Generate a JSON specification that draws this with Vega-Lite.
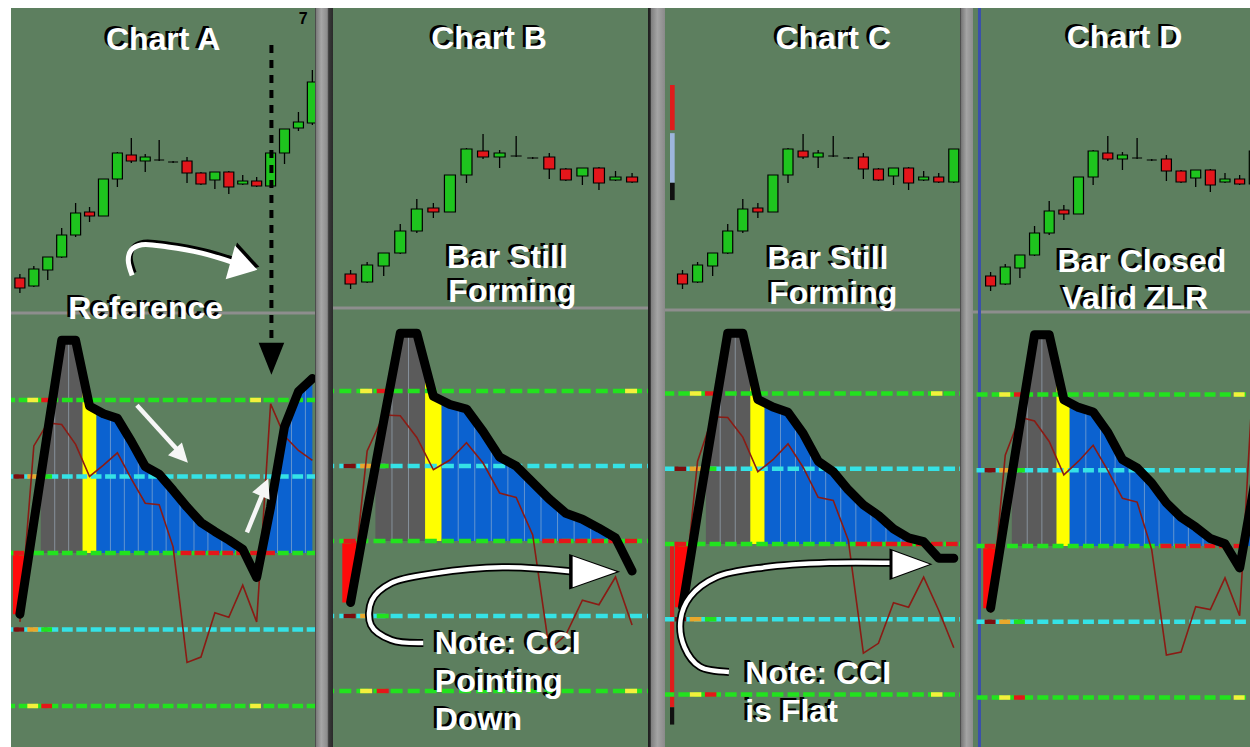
{
"$schema": "https://vega.github.io/schema/vega-lite/v6.json",
"background": "white",
"padding": {"left": 8, "top": 8, "right": 0, "bottom": 0},
"spacing": 0,
"bounds": "flush",
"config": {"view": {"stroke": null}},
"datasets": {
"candles": [
{"i":0,"o":122,"h":126,"l":107,"c":112},{"i":1,"o":114,"h":134,"l":113,"c":131},{"i":2,"o":130,"h":143,"l":120,"c":143},{"i":3,"o":143,"h":172,"l":142,"c":165},{"i":4,"o":165,"h":197,"l":163,"c":187},{"i":5,"o":188,"h":193,"l":178,"c":184},{"i":6,"o":184,"h":221,"l":184,"c":221},{"i":7,"o":221,"h":248,"l":213,"c":247},{"i":8,"o":245,"h":262,"l":237,"c":239},{"i":9,"o":239,"h":246,"l":228,"c":243},{"i":10,"o":240,"h":260,"l":239,"c":240},{"i":11,"o":238,"h":239,"l":237,"c":238},{"i":12,"o":239,"h":243,"l":217,"c":227},{"i":13,"o":227,"h":228,"l":215,"c":216},{"i":14,"o":220,"h":228,"l":211,"c":228},{"i":15,"o":228,"h":229,"l":206,"c":213},{"i":16,"o":216,"h":225,"l":215,"c":219},{"i":17,"o":219,"h":223,"l":213,"c":214},{"i":18,"o":214,"h":247,"l":213,"c":247},{"i":19,"o":247,"h":271,"l":236,"c":271},{"i":20,"o":272,"h":288,"l":269,"c":278},{"i":21,"o":277,"h":330,"l":275,"c":318}
],
"div": [{"p":"A","y":87},{"p":"B","y":88},{"p":"C","y":86},{"p":"D","y":86}],
"cci": [
{"p":"A","i":0,"v":-80,"t":-90},{"p":"A","i":1,"v":40,"t":140},{"p":"A","i":2,"v":160,"t":170},{"p":"A","i":3,"v":278,"t":168},{"p":"A","i":4,"v":278,"t":142},{"p":"A","i":5,"v":192,"t":100},{"p":"A","i":6,"v":182,"t":115},{"p":"A","i":7,"v":176,"t":131},{"p":"A","i":8,"v":146,"t":97},{"p":"A","i":9,"v":113,"t":65},{"p":"A","i":10,"v":103,"t":63},{"p":"A","i":11,"v":82,"t":8},{"p":"A","i":12,"v":60,"t":-143},{"p":"A","i":13,"v":40,"t":-136},{"p":"A","i":14,"v":28,"t":-78},{"p":"A","i":15,"v":17,"t":-84},{"p":"A","i":16,"v":5,"t":-42},{"p":"A","i":17,"v":-32,"t":-90},{"p":"A","i":18,"v":60,"t":195},{"p":"A","i":19,"v":165,"t":153},{"p":"A","i":20,"v":211,"t":134},{"p":"A","i":21,"v":228,"t":121},
{"p":"B","i":0,"v":-82,"t":-88},{"p":"B","i":1,"v":40,"t":120},{"p":"B","i":2,"v":160,"t":168},{"p":"B","i":3,"v":277,"t":167},{"p":"B","i":4,"v":277,"t":138},{"p":"B","i":5,"v":193,"t":95},{"p":"B","i":6,"v":182,"t":108},{"p":"B","i":7,"v":176,"t":131},{"p":"B","i":8,"v":146,"t":104},{"p":"B","i":9,"v":112,"t":64},{"p":"B","i":10,"v":100,"t":58},{"p":"B","i":11,"v":78,"t":8},{"p":"B","i":12,"v":56,"t":-145},{"p":"B","i":13,"v":37,"t":-125},{"p":"B","i":14,"v":29,"t":-79},{"p":"B","i":15,"v":17,"t":-85},{"p":"B","i":16,"v":4,"t":-48},{"p":"B","i":17,"v":-40,"t":-112},
{"p":"C","i":0,"v":-84,"t":-88},{"p":"C","i":1,"v":40,"t":110},{"p":"C","i":2,"v":160,"t":169},{"p":"C","i":3,"v":280,"t":168},{"p":"C","i":4,"v":280,"t":142},{"p":"C","i":5,"v":192,"t":96},{"p":"C","i":6,"v":182,"t":112},{"p":"C","i":7,"v":175,"t":133},{"p":"C","i":8,"v":147,"t":102},{"p":"C","i":9,"v":110,"t":62},{"p":"C","i":10,"v":96,"t":58},{"p":"C","i":11,"v":72,"t":5},{"p":"C","i":12,"v":52,"t":-145},{"p":"C","i":13,"v":38,"t":-132},{"p":"C","i":14,"v":20,"t":-78},{"p":"C","i":15,"v":8,"t":-84},{"p":"C","i":16,"v":3,"t":-44},{"p":"C","i":17,"v":-19,"t":-88},{"p":"C","i":18,"v":-19,"t":-138},
{"p":"D","i":0,"v":-82,"t":-88},{"p":"D","i":1,"v":40,"t":120},{"p":"D","i":2,"v":160,"t":170},{"p":"D","i":3,"v":279,"t":165},{"p":"D","i":4,"v":279,"t":138},{"p":"D","i":5,"v":193,"t":94},{"p":"D","i":6,"v":183,"t":112},{"p":"D","i":7,"v":177,"t":133},{"p":"D","i":8,"v":150,"t":100},{"p":"D","i":9,"v":114,"t":63},{"p":"D","i":10,"v":103,"t":58},{"p":"D","i":11,"v":83,"t":-5},{"p":"D","i":12,"v":57,"t":-144},{"p":"D","i":13,"v":38,"t":-140},{"p":"D","i":14,"v":25,"t":-80},{"p":"D","i":15,"v":10,"t":-84},{"p":"D","i":16,"v":3,"t":-42},{"p":"D","i":17,"v":-29,"t":-92},{"p":"D","i":18,"v":80,"t":250}
],
"hist": [
{"p":"A","s":"r","k":"red","x":-0.5,"v":-80},{"p":"A","s":"r","k":"red","x":0,"v":-80},{"p":"A","s":"r","k":"red","x":0.67,"v":0},
{"p":"A","s":"g","k":"gray","x":1.5,"v":100},{"p":"A","s":"g","k":"gray","x":2,"v":160},{"p":"A","s":"g","k":"gray","x":3,"v":278},{"p":"A","s":"g","k":"gray","x":4,"v":278},{"p":"A","s":"g","k":"gray","x":4.5,"v":235},
{"p":"A","s":"y","k":"yellow","x":4.5,"v":235},{"p":"A","s":"y","k":"yellow","x":5,"v":192},{"p":"A","s":"y","k":"yellow","x":5.5,"v":187},
{"p":"A","s":"b1","k":"blue","x":5.5,"v":187},{"p":"A","s":"b1","k":"blue","x":6,"v":182},{"p":"A","s":"b1","k":"blue","x":7,"v":176},{"p":"A","s":"b1","k":"blue","x":8,"v":146},{"p":"A","s":"b1","k":"blue","x":9,"v":113},{"p":"A","s":"b1","k":"blue","x":10,"v":103},{"p":"A","s":"b1","k":"blue","x":11,"v":82},{"p":"A","s":"b1","k":"blue","x":12,"v":60},{"p":"A","s":"b1","k":"blue","x":13,"v":40},{"p":"A","s":"b1","k":"blue","x":14,"v":28},{"p":"A","s":"b1","k":"blue","x":15,"v":17},{"p":"A","s":"b1","k":"blue","x":16,"v":5},{"p":"A","s":"b1","k":"blue","x":16.14,"v":0},
{"p":"A","s":"b2","k":"blue","x":17.35,"v":0},{"p":"A","s":"b2","k":"blue","x":18,"v":60},{"p":"A","s":"b2","k":"blue","x":19,"v":165},{"p":"A","s":"b2","k":"blue","x":20,"v":211},{"p":"A","s":"b2","k":"blue","x":21,"v":228},
{"p":"B","s":"r","k":"red","x":-0.5,"v":-82},{"p":"B","s":"r","k":"red","x":0,"v":-82},{"p":"B","s":"r","k":"red","x":0.67,"v":0},
{"p":"B","s":"g","k":"gray","x":1.5,"v":100},{"p":"B","s":"g","k":"gray","x":2,"v":160},{"p":"B","s":"g","k":"gray","x":3,"v":277},{"p":"B","s":"g","k":"gray","x":4,"v":277},{"p":"B","s":"g","k":"gray","x":4.5,"v":235},
{"p":"B","s":"y","k":"yellow","x":4.5,"v":235},{"p":"B","s":"y","k":"yellow","x":5,"v":193},{"p":"B","s":"y","k":"yellow","x":5.5,"v":187},
{"p":"B","s":"b1","k":"blue","x":5.5,"v":187},{"p":"B","s":"b1","k":"blue","x":6,"v":182},{"p":"B","s":"b1","k":"blue","x":7,"v":176},{"p":"B","s":"b1","k":"blue","x":8,"v":146},{"p":"B","s":"b1","k":"blue","x":9,"v":112},{"p":"B","s":"b1","k":"blue","x":10,"v":100},{"p":"B","s":"b1","k":"blue","x":11,"v":78},{"p":"B","s":"b1","k":"blue","x":12,"v":56},{"p":"B","s":"b1","k":"blue","x":13,"v":37},{"p":"B","s":"b1","k":"blue","x":14,"v":29},{"p":"B","s":"b1","k":"blue","x":15,"v":17},{"p":"B","s":"b1","k":"blue","x":16,"v":4},{"p":"B","s":"b1","k":"blue","x":16.09,"v":0},
{"p":"C","s":"r","k":"red","x":-0.5,"v":-84},{"p":"C","s":"r","k":"red","x":0,"v":-84},{"p":"C","s":"r","k":"red","x":0.68,"v":0},
{"p":"C","s":"g","k":"gray","x":1.55,"v":100},{"p":"C","s":"g","k":"gray","x":2,"v":160},{"p":"C","s":"g","k":"gray","x":3,"v":280},{"p":"C","s":"g","k":"gray","x":4,"v":280},{"p":"C","s":"g","k":"gray","x":4.5,"v":236},
{"p":"C","s":"y","k":"yellow","x":4.5,"v":236},{"p":"C","s":"y","k":"yellow","x":5,"v":192},{"p":"C","s":"y","k":"yellow","x":5.45,"v":187},
{"p":"C","s":"b1","k":"blue","x":5.45,"v":187},{"p":"C","s":"b1","k":"blue","x":6,"v":182},{"p":"C","s":"b1","k":"blue","x":7,"v":175},{"p":"C","s":"b1","k":"blue","x":8,"v":147},{"p":"C","s":"b1","k":"blue","x":9,"v":110},{"p":"C","s":"b1","k":"blue","x":10,"v":96},{"p":"C","s":"b1","k":"blue","x":11,"v":72},{"p":"C","s":"b1","k":"blue","x":12,"v":52},{"p":"C","s":"b1","k":"blue","x":13,"v":38},{"p":"C","s":"b1","k":"blue","x":14,"v":20},{"p":"C","s":"b1","k":"blue","x":15,"v":8},{"p":"C","s":"b1","k":"blue","x":16,"v":3},{"p":"C","s":"b1","k":"blue","x":16.14,"v":0},
{"p":"D","s":"r","k":"red","x":-0.5,"v":-82},{"p":"D","s":"r","k":"red","x":0,"v":-82},{"p":"D","s":"r","k":"red","x":0.67,"v":0},
{"p":"D","s":"g","k":"gray","x":1.45,"v":98},{"p":"D","s":"g","k":"gray","x":2,"v":160},{"p":"D","s":"g","k":"gray","x":3,"v":279},{"p":"D","s":"g","k":"gray","x":4,"v":279},{"p":"D","s":"g","k":"gray","x":4.5,"v":236},
{"p":"D","s":"y","k":"yellow","x":4.5,"v":236},{"p":"D","s":"y","k":"yellow","x":5,"v":193},{"p":"D","s":"y","k":"yellow","x":5.4,"v":189},
{"p":"D","s":"b1","k":"blue","x":5.4,"v":189},{"p":"D","s":"b1","k":"blue","x":6,"v":183},{"p":"D","s":"b1","k":"blue","x":7,"v":177},{"p":"D","s":"b1","k":"blue","x":8,"v":150},{"p":"D","s":"b1","k":"blue","x":9,"v":114},{"p":"D","s":"b1","k":"blue","x":10,"v":103},{"p":"D","s":"b1","k":"blue","x":11,"v":83},{"p":"D","s":"b1","k":"blue","x":12,"v":57},{"p":"D","s":"b1","k":"blue","x":13,"v":38},{"p":"D","s":"b1","k":"blue","x":14,"v":25},{"p":"D","s":"b1","k":"blue","x":15,"v":10},{"p":"D","s":"b1","k":"blue","x":16,"v":3},{"p":"D","s":"b1","k":"blue","x":16.1,"v":0},
{"p":"D","s":"b2","k":"blue","x":17.27,"v":0},{"p":"D","s":"b2","k":"blue","x":18,"v":80}
],
"seps": [
{"p":"A","x":2.5,"v":219},{"p":"A","x":3.5,"v":278},{"p":"A","x":6.5,"v":179},{"p":"A","x":7.5,"v":161},{"p":"A","x":8.5,"v":130},{"p":"A","x":9.5,"v":108},{"p":"A","x":10.5,"v":92},{"p":"A","x":11.5,"v":71},{"p":"A","x":12.5,"v":50},{"p":"A","x":13.5,"v":34},{"p":"A","x":14.5,"v":22},{"p":"A","x":15.5,"v":11},{"p":"A","x":18.5,"v":112},{"p":"A","x":19.5,"v":188},{"p":"A","x":20.5,"v":220},
{"p":"B","x":2.5,"v":218},{"p":"B","x":3.5,"v":277},{"p":"B","x":6.5,"v":179},{"p":"B","x":7.5,"v":161},{"p":"B","x":8.5,"v":129},{"p":"B","x":9.5,"v":106},{"p":"B","x":10.5,"v":89},{"p":"B","x":11.5,"v":67},{"p":"B","x":12.5,"v":46},{"p":"B","x":13.5,"v":33},{"p":"B","x":14.5,"v":23},{"p":"B","x":15.5,"v":10},
{"p":"C","x":2.5,"v":220},{"p":"C","x":3.5,"v":280},{"p":"C","x":6.5,"v":178},{"p":"C","x":7.5,"v":161},{"p":"C","x":8.5,"v":128},{"p":"C","x":9.5,"v":103},{"p":"C","x":10.5,"v":84},{"p":"C","x":11.5,"v":62},{"p":"C","x":12.5,"v":45},{"p":"C","x":13.5,"v":29},{"p":"C","x":14.5,"v":14},{"p":"C","x":15.5,"v":5},
{"p":"D","x":2.5,"v":219},{"p":"D","x":3.5,"v":279},{"p":"D","x":6.5,"v":180},{"p":"D","x":7.5,"v":163},{"p":"D","x":8.5,"v":132},{"p":"D","x":9.5,"v":108},{"p":"D","x":10.5,"v":93},{"p":"D","x":11.5,"v":70},{"p":"D","x":12.5,"v":47},{"p":"D","x":13.5,"v":31},{"p":"D","x":14.5,"v":17},{"p":"D","x":15.5,"v":6}
],
"levels": [{"lv":200},{"lv":100},{"lv":0},{"lv":-100},{"lv":-200}],
"dots": [
{"p":"*","i":1,"lv":200,"k":"y"},{"p":"*","i":2,"lv":200,"k":"r"},{"p":"*","i":17,"lv":200,"k":"y"},
{"p":"*","i":1,"lv":-200,"k":"y"},{"p":"*","i":2,"lv":-200,"k":"r"},{"p":"*","i":17,"lv":-200,"k":"y"},
{"p":"*","i":0,"lv":100,"k":"dr"},{"p":"*","i":1,"lv":100,"k":"o"},{"p":"*","i":2,"lv":100,"k":"g"},
{"p":"*","i":0,"lv":-100,"k":"dr"},{"p":"*","i":1,"lv":-100,"k":"o"},{"p":"*","i":2,"lv":-100,"k":"g"},
{"p":"*","i":0,"lv":0,"k":"r"},
{"p":"A","i":12,"lv":0,"k":"r"},{"p":"A","i":13,"lv":0,"k":"r"},{"p":"A","i":14,"lv":0,"k":"r"},{"p":"A","i":15,"lv":0,"k":"r"},{"p":"A","i":16,"lv":0,"k":"r"},{"p":"A","i":17,"lv":0,"k":"r"},{"p":"A","i":18,"lv":0,"k":"r"},
{"p":"B","i":12,"lv":0,"k":"r"},{"p":"B","i":13,"lv":0,"k":"r"},{"p":"B","i":14,"lv":0,"k":"r"},{"p":"B","i":15,"lv":0,"k":"r"},{"p":"B","i":16,"lv":0,"k":"r"},{"p":"B","i":17,"lv":0,"k":"r"},
{"p":"C","i":12,"lv":0,"k":"r"},{"p":"C","i":13,"lv":0,"k":"r"},{"p":"C","i":14,"lv":0,"k":"r"},{"p":"C","i":15,"lv":0,"k":"r"},{"p":"C","i":16,"lv":0,"k":"r"},{"p":"C","i":17,"lv":0,"k":"r"},{"p":"C","i":18,"lv":0,"k":"r"},
{"p":"D","i":12,"lv":0,"k":"r"},{"p":"D","i":13,"lv":0,"k":"r"},{"p":"D","i":14,"lv":0,"k":"r"},{"p":"D","i":15,"lv":0,"k":"r"},{"p":"D","i":16,"lv":0,"k":"r"},{"p":"D","i":17,"lv":0,"k":"r"}
],
"strips": [
{"p":"C","x":-0.83,"x2":-0.52,"v":610,"v2":550,"k":"red"},{"p":"C","x":-0.83,"x2":-0.52,"v":546,"v2":480,"k":"lb"},{"p":"C","x":-0.83,"x2":-0.52,"v":480,"v2":457,"k":"blk"},{"p":"C","x":-0.83,"x2":-0.55,"v":3,"v2":-217,"k":"red"},{"p":"C","x":-0.83,"x2":-0.55,"v":-217,"v2":-240,"k":"blk"}
],
"edge": [{"p":"D","x":-0.76}],
"arrows": [
{"a":"ta","k":1,"x":8.06,"v":363},{"a":"ta","k":2,"x":7.78,"v":383},{"a":"ta","k":3,"x":7.99,"v":396},{"a":"ta","k":4,"x":8.75,"v":403},{"a":"ta","k":5,"x":10.63,"v":400},{"a":"ta","k":6,"x":13.06,"v":392},{"a":"ta","k":7,"x":15.28,"v":380},
{"a":"w1","k":1,"x":8.4,"v":193},{"a":"w1","k":2,"x":11.4,"v":133},
{"a":"w2","k":1,"x":16.3,"v":27},{"a":"w2","k":2,"x":17.4,"v":76},
{"a":"dash","k":1,"x":18.06,"v":664},{"a":"dash","k":2,"x":18.06,"v":275},
{"a":"cb","k":1,"x":4.39,"v":-136},{"a":"cb","k":2,"x":2.46,"v":-132},{"a":"cb","k":3,"x":1.23,"v":-112},{"a":"cb","k":4,"x":1.29,"v":-79},{"a":"cb","k":5,"x":2.46,"v":-56},{"a":"cb","k":6,"x":5.09,"v":-43},{"a":"cb","k":7,"x":9.18,"v":-35},{"a":"cb","k":8,"x":13.57,"v":-41},
{"a":"cc","k":1,"x":3.08,"v":-170},{"a":"cc","k":2,"x":1.15,"v":-163},{"a":"cc","k":3,"x":0.13,"v":-137},{"a":"cc","k":4,"x":-0.13,"v":-101},{"a":"cc","k":5,"x":0.51,"v":-70},{"a":"cc","k":6,"x":2.24,"v":-44},{"a":"cc","k":7,"x":5.45,"v":-31},{"a":"cc","k":8,"x":9.74,"v":-25},{"a":"cc","k":9,"x":13.97,"v":-25}
],
"heads": [
{"h":"ta","x":16.08,"v":375},{"h":"w1","x":11.6,"v":127},{"h":"w2","x":17.57,"v":86},{"h":"dash","x":18.06,"v":254},{"h":"cb","x":14.74,"v":-41},{"h":"cc","x":15.16,"v":-27}
],
"texts": [
{"p":"A","r":"c","t":"Chart A","x":10.28,"v":670.5},{"p":"A","r":"c","t":"Reference","x":9.03,"v":319.5},{"p":"A","r":"s","t":"7","x":20.35,"v":698},
{"p":"B","r":"c","t":"Chart B","x":8.36,"v":669.5},{"p":"B","r":"c","t":"Bar Still","x":9.47,"v":377.5},{"p":"B","r":"c","t":"Forming","x":9.77,"v":332},
{"p":"B","r":"l","t":"Note: CCI","x":5.09,"v":-137.5},{"p":"B","r":"l","t":"Pointing","x":5.09,"v":-187.5},{"p":"B","r":"l","t":"Down","x":5.09,"v":-238.5},
{"p":"C","r":"c","t":"Chart C","x":10.0,"v":671.5},{"p":"C","r":"c","t":"Bar Still","x":9.65,"v":378.5},{"p":"C","r":"c","t":"Forming","x":10.0,"v":332.5},
{"p":"C","r":"l","t":"Note: CCI","x":4.17,"v":-172.5},{"p":"C","r":"l","t":"is Flat","x":4.17,"v":-223.5},
{"p":"D","r":"c","t":"Chart D","x":9.14,"v":670.5},{"p":"D","r":"c","t":"Bar Closed","x":10.33,"v":375.5},{"p":"D","r":"c","t":"Valid ZLR","x":9.87,"v":325.5}
]
},
"hconcat": [
{
"width": 304, "height": 739,
"view": {"fill": "#5d7f5f", "stroke": null},
"resolve": {"scale": {"y": "independent"}},
"layer": [
{"layer": [
{"data": {"name": "div"}, "transform": [{"filter": "datum.p=='A'"}], "mark": {"type": "rule", "color": "#8e8e8e", "strokeWidth": 3}, "encoding": {"y": {"field": "y", "type": "quantitative", "scale": {"domain": [-347, 392], "nice": false, "zero": false}, "axis": null}}},
{"data": {"name": "candles"}, "mark": {"type": "rule", "color": "#000000", "strokeWidth": 1.3, "clip": true}, "encoding": {"x": {"field": "i", "type": "quantitative", "scale": {"domain": [-0.28, 20.83], "nice": false, "zero": false}, "axis": null}, "y": {"field": "l", "type": "quantitative", "scale": {"domain": [-347, 392], "nice": false, "zero": false}, "axis": null}, "y2": {"field": "h"}}},
{"data": {"name": "candles"}, "mark": {"type": "bar", "width": 10, "stroke": "#000000", "strokeWidth": 1.2, "clip": true}, "encoding": {"x": {"field": "i", "type": "quantitative", "scale": {"domain": [-0.28, 20.83], "nice": false, "zero": false}, "axis": null}, "y": {"field": "o", "type": "quantitative", "scale": {"domain": [-347, 392], "nice": false, "zero": false}, "axis": null}, "y2": {"field": "c"}, "fill": {"condition": [{"test": "datum.c > datum.o", "value": "#1ec41e"}, {"test": "datum.c < datum.o", "value": "#e3161b"}], "value": "#000000"}}}
]},
{"layer": [
{"data": {"name": "hist"}, "transform": [{"filter": "datum.p=='A'"}], "mark": {"type": "area", "interpolate": "linear", "clip": true}, "encoding": {"x": {"field": "x", "type": "quantitative", "scale": {"domain": [-0.28, 20.83], "nice": false, "zero": false}, "axis": null}, "y": {"field": "v", "type": "quantitative", "scale": {"domain": [-253.6, 712.4], "nice": false, "zero": false}, "axis": null}, "y2": {"datum": 0}, "detail": {"field": "s"}, "fill": {"condition": [{"test": "datum.k=='red'", "value": "#ff0a0a"}, {"test": "datum.k=='gray'", "value": "#5b5b5b"}, {"test": "datum.k=='yellow'", "value": "#ffff00"}], "value": "#0b62d0"}}},
{"data": {"name": "seps"}, "transform": [{"filter": "datum.p=='A'"}], "mark": {"type": "rule", "color": "#aabdd0", "strokeWidth": 1, "opacity": 0.55, "clip": true}, "encoding": {"x": {"field": "x", "type": "quantitative", "scale": {"domain": [-0.28, 20.83], "nice": false, "zero": false}, "axis": null}, "y": {"field": "v", "type": "quantitative", "scale": {"domain": [-253.6, 712.4], "nice": false, "zero": false}, "axis": null}, "y2": {"datum": 0}}},
{"data": {"name": "levels"}, "mark": {"type": "rule", "strokeWidth": 4.5, "strokeDash": [10.8, 3.6], "strokeDashOffset": 2.5}, "encoding": {"y": {"field": "lv", "type": "quantitative", "scale": {"domain": [-253.6, 712.4], "nice": false, "zero": false}, "axis": null}, "color": {"condition": {"test": "abs(datum.lv)==100", "value": "#35e2e6"}, "value": "#22e21e"}}},
{"data": {"name": "dots"}, "transform": [{"filter": "datum.p=='*' || datum.p=='A'"}], "mark": {"type": "tick", "orient": "horizontal", "size": 10.8, "thickness": 4.5, "xOffset": -1.1, "opacity": 1, "clip": true}, "encoding": {"x": {"field": "i", "type": "quantitative", "scale": {"domain": [-0.28, 20.83], "nice": false, "zero": false}, "axis": null}, "y": {"field": "lv", "type": "quantitative", "scale": {"domain": [-253.6, 712.4], "nice": false, "zero": false}, "axis": null}, "color": {"condition": [{"test": "datum.k=='y'", "value": "#f4f03c"}, {"test": "datum.k=='r'", "value": "#e5161a"}, {"test": "datum.k=='dr'", "value": "#7c0e0e"}, {"test": "datum.k=='o'", "value": "#e9a82c"}], "value": "#22e21e"}}},
{"data": {"name": "cci"}, "transform": [{"filter": "datum.p=='A'"}], "mark": {"type": "line", "color": "#8a1b14", "strokeWidth": 1.6, "clip": true}, "encoding": {"x": {"field": "i", "type": "quantitative", "scale": {"domain": [-0.28, 20.83], "nice": false, "zero": false}, "axis": null}, "y": {"field": "t", "type": "quantitative", "scale": {"domain": [-253.6, 712.4], "nice": false, "zero": false}, "axis": null}}},
{"data": {"name": "cci"}, "transform": [{"filter": "datum.p=='A'"}], "mark": {"type": "line", "color": "#000000", "strokeWidth": 9, "strokeJoin": "round", "strokeCap": "round", "clip": true}, "encoding": {"x": {"field": "i", "type": "quantitative", "scale": {"domain": [-0.28, 20.83], "nice": false, "zero": false}, "axis": null}, "y": {"field": "v", "type": "quantitative", "scale": {"domain": [-253.6, 712.4], "nice": false, "zero": false}, "axis": null}}},
{"data": {"name": "arrows"}, "transform": [{"filter": "datum.a=='ta'"}], "mark": {"type": "line", "interpolate": "catmull-rom", "color": "#000000", "strokeWidth": 5, "xOffset": 2, "yOffset": -2.5, "clip": true}, "encoding": {"x": {"field": "x", "type": "quantitative", "scale": {"domain": [-0.28, 20.83], "nice": false, "zero": false}, "axis": null}, "y": {"field": "v", "type": "quantitative", "scale": {"domain": [-253.6, 712.4], "nice": false, "zero": false}, "axis": null}, "order": {"field": "k"}}},
{"data": {"name": "arrows"}, "transform": [{"filter": "datum.a=='ta'"}], "mark": {"type": "line", "interpolate": "catmull-rom", "color": "#ffffff", "strokeWidth": 5, "clip": true}, "encoding": {"x": {"field": "x", "type": "quantitative", "scale": {"domain": [-0.28, 20.83], "nice": false, "zero": false}, "axis": null}, "y": {"field": "v", "type": "quantitative", "scale": {"domain": [-253.6, 712.4], "nice": false, "zero": false}, "axis": null}, "order": {"field": "k"}}},
{"data": {"name": "heads"}, "transform": [{"filter": "datum.h=='ta'"}], "mark": {"type": "point", "shape": "M1,0L-1,-1.25L-1,1.25Z", "size": 784, "angle": 15.5, "filled": true, "color": "#000000", "opacity": 1, "xOffset": 2, "yOffset": -3}, "encoding": {"x": {"field": "x", "type": "quantitative", "scale": {"domain": [-0.28, 20.83], "nice": false, "zero": false}, "axis": null}, "y": {"field": "v", "type": "quantitative", "scale": {"domain": [-253.6, 712.4], "nice": false, "zero": false}, "axis": null}}},
{"data": {"name": "heads"}, "transform": [{"filter": "datum.h=='ta'"}], "mark": {"type": "point", "shape": "M1,0L-1,-1.25L-1,1.25Z", "size": 784, "angle": 15.5, "filled": true, "color": "#ffffff", "opacity": 1}, "encoding": {"x": {"field": "x", "type": "quantitative", "scale": {"domain": [-0.28, 20.83], "nice": false, "zero": false}, "axis": null}, "y": {"field": "v", "type": "quantitative", "scale": {"domain": [-253.6, 712.4], "nice": false, "zero": false}, "axis": null}}},
{"data": {"name": "arrows"}, "transform": [{"filter": "datum.a=='w1' || datum.a=='w2'"}], "mark": {"type": "line", "color": "#f6f6f6", "strokeWidth": 4.5, "clip": true}, "encoding": {"x": {"field": "x", "type": "quantitative", "scale": {"domain": [-0.28, 20.83], "nice": false, "zero": false}, "axis": null}, "y": {"field": "v", "type": "quantitative", "scale": {"domain": [-253.6, 712.4], "nice": false, "zero": false}, "axis": null}, "detail": {"field": "a"}, "order": {"field": "k"}}},
{"data": {"name": "heads"}, "transform": [{"filter": "datum.h=='w1'"}], "mark": {"type": "point", "shape": "M1,0L-1,-1L-1,1Z", "size": 361, "angle": 47, "filled": true, "color": "#f6f6f6", "opacity": 1}, "encoding": {"x": {"field": "x", "type": "quantitative", "scale": {"domain": [-0.28, 20.83], "nice": false, "zero": false}, "axis": null}, "y": {"field": "v", "type": "quantitative", "scale": {"domain": [-253.6, 712.4], "nice": false, "zero": false}, "axis": null}}},
{"data": {"name": "heads"}, "transform": [{"filter": "datum.h=='w2'"}], "mark": {"type": "point", "shape": "M1,0L-1,-1L-1,1Z", "size": 361, "angle": 293, "filled": true, "color": "#f6f6f6", "opacity": 1}, "encoding": {"x": {"field": "x", "type": "quantitative", "scale": {"domain": [-0.28, 20.83], "nice": false, "zero": false}, "axis": null}, "y": {"field": "v", "type": "quantitative", "scale": {"domain": [-253.6, 712.4], "nice": false, "zero": false}, "axis": null}}},
{"data": {"name": "arrows"}, "transform": [{"filter": "datum.a=='dash'"}], "mark": {"type": "line", "color": "#000000", "strokeWidth": 4, "strokeDash": [8, 7], "clip": true}, "encoding": {"x": {"field": "x", "type": "quantitative", "scale": {"domain": [-0.28, 20.83], "nice": false, "zero": false}, "axis": null}, "y": {"field": "v", "type": "quantitative", "scale": {"domain": [-253.6, 712.4], "nice": false, "zero": false}, "axis": null}, "order": {"field": "k"}}},
{"data": {"name": "heads"}, "transform": [{"filter": "datum.h=='dash'"}], "mark": {"type": "point", "shape": "M1,0L-1,-0.8L-1,0.8Z", "size": 1024, "angle": 90, "filled": true, "color": "#000000", "opacity": 1}, "encoding": {"x": {"field": "x", "type": "quantitative", "scale": {"domain": [-0.28, 20.83], "nice": false, "zero": false}, "axis": null}, "y": {"field": "v", "type": "quantitative", "scale": {"domain": [-253.6, 712.4], "nice": false, "zero": false}, "axis": null}}},
{"data": {"name": "texts"}, "transform": [{"filter": "datum.p=='A' && datum.r=='c'"}], "mark": {"type": "text", "font": "Liberation Sans", "fontWeight": "bold", "fontSize": 32, "align": "center", "baseline": "middle", "color": "#000000", "dx": -3, "dy": -2}, "encoding": {"x": {"field": "x", "type": "quantitative", "scale": {"domain": [-0.28, 20.83], "nice": false, "zero": false}, "axis": null}, "y": {"field": "v", "type": "quantitative", "scale": {"domain": [-253.6, 712.4], "nice": false, "zero": false}, "axis": null}, "text": {"field": "t"}}},
{"data": {"name": "texts"}, "transform": [{"filter": "datum.p=='A' && datum.r=='c'"}], "mark": {"type": "text", "font": "Liberation Sans", "fontWeight": "bold", "fontSize": 32, "align": "center", "baseline": "middle", "color": "#ffffff"}, "encoding": {"x": {"field": "x", "type": "quantitative", "scale": {"domain": [-0.28, 20.83], "nice": false, "zero": false}, "axis": null}, "y": {"field": "v", "type": "quantitative", "scale": {"domain": [-253.6, 712.4], "nice": false, "zero": false}, "axis": null}, "text": {"field": "t"}}},
{"data": {"name": "texts"}, "transform": [{"filter": "datum.p=='A' && datum.r=='s'"}], "mark": {"type": "text", "font": "Liberation Sans", "fontWeight": "bold", "fontSize": 16, "align": "center", "baseline": "middle", "color": "#000000"}, "encoding": {"x": {"field": "x", "type": "quantitative", "scale": {"domain": [-0.28, 20.83], "nice": false, "zero": false}, "axis": null}, "y": {"field": "v", "type": "quantitative", "scale": {"domain": [-253.6, 712.4], "nice": false, "zero": false}, "axis": null}, "text": {"field": "t"}}}
]}
]
},
{
"width": 18, "height": 739, "data": {"values": [{}]},
"mark": {"type": "rect", "fill": {"gradient": "linear", "x1": 0, "y1": 0, "x2": 1, "y2": 0, "stops": [{"offset": 0, "color": "#2e2e2e"}, {"offset": 0.07, "color": "#7c7c7c"}, {"offset": 0.35, "color": "#a6a6a6"}, {"offset": 0.68, "color": "#8c8c8c"}, {"offset": 0.76, "color": "#3a3a3a"}, {"offset": 1, "color": "#2a2a2a"}]}},
"encoding": {"x": {"datum": 0, "type": "quantitative", "scale": {"domain": [0, 1], "nice": false, "zero": false}, "axis": null}, "x2": {"datum": 1}, "y": {"datum": 0, "type": "quantitative", "scale": {"domain": [0, 1], "nice": false, "zero": false}, "axis": null}, "y2": {"datum": 1}}
},
{
"width": 315, "height": 739,
"view": {"fill": "#5d7f5f", "stroke": null},
"resolve": {"scale": {"y": "independent"}},
"layer": [
{"layer": [
{"data": {"name": "div"}, "transform": [{"filter": "datum.p=='B'"}], "mark": {"type": "rule", "color": "#8e8e8e", "strokeWidth": 3}, "encoding": {"y": {"field": "y", "type": "quantitative", "scale": {"domain": [-351, 388], "nice": false, "zero": false}, "axis": null}}},
{"data": {"name": "candles"}, "transform": [{"filter": "datum.i <= 17"}], "mark": {"type": "rule", "color": "#000000", "strokeWidth": 1.3, "clip": true}, "encoding": {"x": {"field": "i", "type": "quantitative", "scale": {"domain": [-0.76, 17.66], "nice": false, "zero": false}, "axis": null}, "y": {"field": "l", "type": "quantitative", "scale": {"domain": [-351, 388], "nice": false, "zero": false}, "axis": null}, "y2": {"field": "h"}}},
{"data": {"name": "candles"}, "transform": [{"filter": "datum.i <= 17"}], "mark": {"type": "bar", "width": 11, "stroke": "#000000", "strokeWidth": 1.2, "clip": true}, "encoding": {"x": {"field": "i", "type": "quantitative", "scale": {"domain": [-0.76, 17.66], "nice": false, "zero": false}, "axis": null}, "y": {"field": "o", "type": "quantitative", "scale": {"domain": [-351, 388], "nice": false, "zero": false}, "axis": null}, "y2": {"field": "c"}, "fill": {"condition": [{"test": "datum.c > datum.o", "value": "#1ec41e"}, {"test": "datum.c < datum.o", "value": "#e3161b"}], "value": "#000000"}}}
]},
{"layer": [
{"data": {"name": "hist"}, "transform": [{"filter": "datum.p=='B'"}], "mark": {"type": "area", "interpolate": "linear", "clip": true}, "encoding": {"x": {"field": "x", "type": "quantitative", "scale": {"domain": [-0.76, 17.66], "nice": false, "zero": false}, "axis": null}, "y": {"field": "v", "type": "quantitative", "scale": {"domain": [-274.7, 710.7], "nice": false, "zero": false}, "axis": null}, "y2": {"datum": 0}, "detail": {"field": "s"}, "fill": {"condition": [{"test": "datum.k=='red'", "value": "#ff0a0a"}, {"test": "datum.k=='gray'", "value": "#5b5b5b"}, {"test": "datum.k=='yellow'", "value": "#ffff00"}], "value": "#0b62d0"}}},
{"data": {"name": "seps"}, "transform": [{"filter": "datum.p=='B'"}], "mark": {"type": "rule", "color": "#aabdd0", "strokeWidth": 1, "opacity": 0.55, "clip": true}, "encoding": {"x": {"field": "x", "type": "quantitative", "scale": {"domain": [-0.76, 17.66], "nice": false, "zero": false}, "axis": null}, "y": {"field": "v", "type": "quantitative", "scale": {"domain": [-274.7, 710.7], "nice": false, "zero": false}, "axis": null}, "y2": {"datum": 0}}},
{"data": {"name": "levels"}, "mark": {"type": "rule", "strokeWidth": 4.5, "strokeDash": [12, 5.1], "strokeDashOffset": 11.1}, "encoding": {"y": {"field": "lv", "type": "quantitative", "scale": {"domain": [-274.7, 710.7], "nice": false, "zero": false}, "axis": null}, "color": {"condition": {"test": "abs(datum.lv)==100", "value": "#35e2e6"}, "value": "#22e21e"}}},
{"data": {"name": "dots"}, "transform": [{"filter": "datum.p=='*' || datum.p=='B'"}], "mark": {"type": "tick", "orient": "horizontal", "size": 12, "thickness": 4.5, "xOffset": -1, "opacity": 1, "clip": true}, "encoding": {"x": {"field": "i", "type": "quantitative", "scale": {"domain": [-0.76, 17.66], "nice": false, "zero": false}, "axis": null}, "y": {"field": "lv", "type": "quantitative", "scale": {"domain": [-274.7, 710.7], "nice": false, "zero": false}, "axis": null}, "color": {"condition": [{"test": "datum.k=='y'", "value": "#f4f03c"}, {"test": "datum.k=='r'", "value": "#e5161a"}, {"test": "datum.k=='dr'", "value": "#7c0e0e"}, {"test": "datum.k=='o'", "value": "#e9a82c"}], "value": "#22e21e"}}},
{"data": {"name": "cci"}, "transform": [{"filter": "datum.p=='B'"}], "mark": {"type": "line", "color": "#8a1b14", "strokeWidth": 1.6, "clip": true}, "encoding": {"x": {"field": "i", "type": "quantitative", "scale": {"domain": [-0.76, 17.66], "nice": false, "zero": false}, "axis": null}, "y": {"field": "t", "type": "quantitative", "scale": {"domain": [-274.7, 710.7], "nice": false, "zero": false}, "axis": null}}},
{"data": {"name": "cci"}, "transform": [{"filter": "datum.p=='B'"}], "mark": {"type": "line", "color": "#000000", "strokeWidth": 9, "strokeJoin": "round", "strokeCap": "round", "clip": true}, "encoding": {"x": {"field": "i", "type": "quantitative", "scale": {"domain": [-0.76, 17.66], "nice": false, "zero": false}, "axis": null}, "y": {"field": "v", "type": "quantitative", "scale": {"domain": [-274.7, 710.7], "nice": false, "zero": false}, "axis": null}}},
{"data": {"name": "arrows"}, "transform": [{"filter": "datum.a=='cb'"}], "mark": {"type": "line", "interpolate": "catmull-rom", "color": "#000000", "strokeWidth": 8, "clip": true}, "encoding": {"x": {"field": "x", "type": "quantitative", "scale": {"domain": [-0.76, 17.66], "nice": false, "zero": false}, "axis": null}, "y": {"field": "v", "type": "quantitative", "scale": {"domain": [-274.7, 710.7], "nice": false, "zero": false}, "axis": null}, "order": {"field": "k"}}},
{"data": {"name": "arrows"}, "transform": [{"filter": "datum.a=='cb'"}], "mark": {"type": "line", "interpolate": "catmull-rom", "color": "#ffffff", "strokeWidth": 4.5, "clip": true}, "encoding": {"x": {"field": "x", "type": "quantitative", "scale": {"domain": [-0.76, 17.66], "nice": false, "zero": false}, "axis": null}, "y": {"field": "v", "type": "quantitative", "scale": {"domain": [-274.7, 710.7], "nice": false, "zero": false}, "axis": null}, "order": {"field": "k"}}},
{"data": {"name": "heads"}, "transform": [{"filter": "datum.h=='cb'"}], "mark": {"type": "point", "shape": "M1,0L-1,-0.7L-1,0.7Z", "size": 2600, "angle": 0, "filled": true, "color": "#000000", "opacity": 1}, "encoding": {"x": {"field": "x", "type": "quantitative", "scale": {"domain": [-0.76, 17.66], "nice": false, "zero": false}, "axis": null}, "y": {"field": "v", "type": "quantitative", "scale": {"domain": [-274.7, 710.7], "nice": false, "zero": false}, "axis": null}}},
{"data": {"name": "heads"}, "transform": [{"filter": "datum.h=='cb'"}], "mark": {"type": "point", "shape": "M1,0L-1,-0.7L-1,0.7Z", "size": 1936, "angle": 0, "filled": true, "color": "#ffffff", "opacity": 1}, "encoding": {"x": {"field": "x", "type": "quantitative", "scale": {"domain": [-0.76, 17.66], "nice": false, "zero": false}, "axis": null}, "y": {"field": "v", "type": "quantitative", "scale": {"domain": [-274.7, 710.7], "nice": false, "zero": false}, "axis": null}}},
{"data": {"name": "texts"}, "transform": [{"filter": "datum.p=='B' && datum.r=='c'"}], "mark": {"type": "text", "font": "Liberation Sans", "fontWeight": "bold", "fontSize": 32, "align": "center", "baseline": "middle", "color": "#000000", "dx": -3, "dy": -2}, "encoding": {"x": {"field": "x", "type": "quantitative", "scale": {"domain": [-0.76, 17.66], "nice": false, "zero": false}, "axis": null}, "y": {"field": "v", "type": "quantitative", "scale": {"domain": [-274.7, 710.7], "nice": false, "zero": false}, "axis": null}, "text": {"field": "t"}}},
{"data": {"name": "texts"}, "transform": [{"filter": "datum.p=='B' && datum.r=='c'"}], "mark": {"type": "text", "font": "Liberation Sans", "fontWeight": "bold", "fontSize": 32, "align": "center", "baseline": "middle", "color": "#ffffff"}, "encoding": {"x": {"field": "x", "type": "quantitative", "scale": {"domain": [-0.76, 17.66], "nice": false, "zero": false}, "axis": null}, "y": {"field": "v", "type": "quantitative", "scale": {"domain": [-274.7, 710.7], "nice": false, "zero": false}, "axis": null}, "text": {"field": "t"}}},
{"data": {"name": "texts"}, "transform": [{"filter": "datum.p=='B' && datum.r=='l'"}], "mark": {"type": "text", "font": "Liberation Sans", "fontWeight": "bold", "fontSize": 32, "align": "left", "baseline": "middle", "color": "#000000", "dx": -3, "dy": -2}, "encoding": {"x": {"field": "x", "type": "quantitative", "scale": {"domain": [-0.76, 17.66], "nice": false, "zero": false}, "axis": null}, "y": {"field": "v", "type": "quantitative", "scale": {"domain": [-274.7, 710.7], "nice": false, "zero": false}, "axis": null}, "text": {"field": "t"}}},
{"data": {"name": "texts"}, "transform": [{"filter": "datum.p=='B' && datum.r=='l'"}], "mark": {"type": "text", "font": "Liberation Sans", "fontWeight": "bold", "fontSize": 32, "align": "left", "baseline": "middle", "color": "#ffffff"}, "encoding": {"x": {"field": "x", "type": "quantitative", "scale": {"domain": [-0.76, 17.66], "nice": false, "zero": false}, "axis": null}, "y": {"field": "v", "type": "quantitative", "scale": {"domain": [-274.7, 710.7], "nice": false, "zero": false}, "axis": null}, "text": {"field": "t"}}}
]}
]
},
{
"width": 17, "height": 739, "data": {"values": [{}]},
"mark": {"type": "rect", "fill": {"gradient": "linear", "x1": 0, "y1": 0, "x2": 1, "y2": 0, "stops": [{"offset": 0, "color": "#1e1e1e"}, {"offset": 0.13, "color": "#262626"}, {"offset": 0.2, "color": "#808080"}, {"offset": 0.55, "color": "#a4a4a4"}, {"offset": 1, "color": "#8a8a8a"}]}},
"encoding": {"x": {"datum": 0, "type": "quantitative", "scale": {"domain": [0, 1], "nice": false, "zero": false}, "axis": null}, "x2": {"datum": 1}, "y": {"datum": 0, "type": "quantitative", "scale": {"domain": [0, 1], "nice": false, "zero": false}, "axis": null}, "y2": {"datum": 1}}
},
{
"width": 295, "height": 739,
"view": {"fill": "#5d7f5f", "stroke": null},
"resolve": {"scale": {"y": "independent"}},
"layer": [
{"layer": [
{"data": {"name": "div"}, "transform": [{"filter": "datum.p=='C'"}], "mark": {"type": "rule", "color": "#8e8e8e", "strokeWidth": 3}, "encoding": {"y": {"field": "y", "type": "quantitative", "scale": {"domain": [-351, 388], "nice": false, "zero": false}, "axis": null}}},
{"data": {"name": "candles"}, "transform": [{"filter": "datum.i <= 18"}], "mark": {"type": "rule", "color": "#000000", "strokeWidth": 1.3, "clip": true}, "encoding": {"x": {"field": "i", "type": "quantitative", "scale": {"domain": [-0.83, 18.08], "nice": false, "zero": false}, "axis": null}, "y": {"field": "l", "type": "quantitative", "scale": {"domain": [-351, 388], "nice": false, "zero": false}, "axis": null}, "y2": {"field": "h"}}},
{"data": {"name": "candles"}, "transform": [{"filter": "datum.i <= 18"}], "mark": {"type": "bar", "width": 10, "stroke": "#000000", "strokeWidth": 1.2, "clip": true}, "encoding": {"x": {"field": "i", "type": "quantitative", "scale": {"domain": [-0.83, 18.08], "nice": false, "zero": false}, "axis": null}, "y": {"field": "o", "type": "quantitative", "scale": {"domain": [-351, 388], "nice": false, "zero": false}, "axis": null}, "y2": {"field": "c"}, "fill": {"condition": [{"test": "datum.c > datum.o", "value": "#1ec41e"}, {"test": "datum.c < datum.o", "value": "#e3161b"}], "value": "#000000"}}}
]},
{"layer": [
{"data": {"name": "strips"}, "transform": [{"filter": "datum.p=='C'"}], "mark": {"type": "rect", "clip": true}, "encoding": {"x": {"field": "x", "type": "quantitative", "scale": {"domain": [-0.83, 18.08], "nice": false, "zero": false}, "axis": null}, "x2": {"field": "x2"}, "y": {"field": "v", "type": "quantitative", "scale": {"domain": [-269.8, 712.3], "nice": false, "zero": false}, "axis": null}, "y2": {"field": "v2"}, "fill": {"condition": [{"test": "datum.k=='red'", "value": "#e01c1c"}, {"test": "datum.k=='lb'", "value": "#9db6dc"}], "value": "#111111"}}},
{"data": {"name": "hist"}, "transform": [{"filter": "datum.p=='C'"}], "mark": {"type": "area", "interpolate": "linear", "clip": true}, "encoding": {"x": {"field": "x", "type": "quantitative", "scale": {"domain": [-0.83, 18.08], "nice": false, "zero": false}, "axis": null}, "y": {"field": "v", "type": "quantitative", "scale": {"domain": [-269.8, 712.3], "nice": false, "zero": false}, "axis": null}, "y2": {"datum": 0}, "detail": {"field": "s"}, "fill": {"condition": [{"test": "datum.k=='red'", "value": "#ff0a0a"}, {"test": "datum.k=='gray'", "value": "#5b5b5b"}, {"test": "datum.k=='yellow'", "value": "#ffff00"}], "value": "#0b62d0"}}},
{"data": {"name": "seps"}, "transform": [{"filter": "datum.p=='C'"}], "mark": {"type": "rule", "color": "#aabdd0", "strokeWidth": 1, "opacity": 0.55, "clip": true}, "encoding": {"x": {"field": "x", "type": "quantitative", "scale": {"domain": [-0.83, 18.08], "nice": false, "zero": false}, "axis": null}, "y": {"field": "v", "type": "quantitative", "scale": {"domain": [-269.8, 712.3], "nice": false, "zero": false}, "axis": null}, "y2": {"datum": 0}}},
{"data": {"name": "levels"}, "mark": {"type": "rule", "strokeWidth": 4.5, "strokeDash": [11.5, 4.1], "strokeDashOffset": 10.65}, "encoding": {"y": {"field": "lv", "type": "quantitative", "scale": {"domain": [-269.8, 712.3], "nice": false, "zero": false}, "axis": null}, "color": {"condition": {"test": "abs(datum.lv)==100", "value": "#35e2e6"}, "value": "#22e21e"}}},
{"data": {"name": "dots"}, "transform": [{"filter": "datum.p=='*' || datum.p=='C'"}], "mark": {"type": "tick", "orient": "horizontal", "size": 11.5, "thickness": 4.5, "xOffset": -2, "opacity": 1, "clip": true}, "encoding": {"x": {"field": "i", "type": "quantitative", "scale": {"domain": [-0.83, 18.08], "nice": false, "zero": false}, "axis": null}, "y": {"field": "lv", "type": "quantitative", "scale": {"domain": [-269.8, 712.3], "nice": false, "zero": false}, "axis": null}, "color": {"condition": [{"test": "datum.k=='y'", "value": "#f4f03c"}, {"test": "datum.k=='r'", "value": "#e5161a"}, {"test": "datum.k=='dr'", "value": "#7c0e0e"}, {"test": "datum.k=='o'", "value": "#e9a82c"}], "value": "#22e21e"}}},
{"data": {"name": "cci"}, "transform": [{"filter": "datum.p=='C'"}], "mark": {"type": "line", "color": "#8a1b14", "strokeWidth": 1.6, "clip": true}, "encoding": {"x": {"field": "i", "type": "quantitative", "scale": {"domain": [-0.83, 18.08], "nice": false, "zero": false}, "axis": null}, "y": {"field": "t", "type": "quantitative", "scale": {"domain": [-269.8, 712.3], "nice": false, "zero": false}, "axis": null}}},
{"data": {"name": "cci"}, "transform": [{"filter": "datum.p=='C'"}], "mark": {"type": "line", "color": "#000000", "strokeWidth": 9, "strokeJoin": "round", "strokeCap": "round", "clip": true}, "encoding": {"x": {"field": "i", "type": "quantitative", "scale": {"domain": [-0.83, 18.08], "nice": false, "zero": false}, "axis": null}, "y": {"field": "v", "type": "quantitative", "scale": {"domain": [-269.8, 712.3], "nice": false, "zero": false}, "axis": null}}},
{"data": {"name": "arrows"}, "transform": [{"filter": "datum.a=='cc'"}], "mark": {"type": "line", "interpolate": "catmull-rom", "color": "#000000", "strokeWidth": 8, "clip": true}, "encoding": {"x": {"field": "x", "type": "quantitative", "scale": {"domain": [-0.83, 18.08], "nice": false, "zero": false}, "axis": null}, "y": {"field": "v", "type": "quantitative", "scale": {"domain": [-269.8, 712.3], "nice": false, "zero": false}, "axis": null}, "order": {"field": "k"}}},
{"data": {"name": "arrows"}, "transform": [{"filter": "datum.a=='cc'"}], "mark": {"type": "line", "interpolate": "catmull-rom", "color": "#ffffff", "strokeWidth": 4.5, "clip": true}, "encoding": {"x": {"field": "x", "type": "quantitative", "scale": {"domain": [-0.83, 18.08], "nice": false, "zero": false}, "axis": null}, "y": {"field": "v", "type": "quantitative", "scale": {"domain": [-269.8, 712.3], "nice": false, "zero": false}, "axis": null}, "order": {"field": "k"}}},
{"data": {"name": "heads"}, "transform": [{"filter": "datum.h=='cc'"}], "mark": {"type": "point", "shape": "M1,0L-1,-0.73L-1,0.73Z", "size": 1850, "angle": 0, "filled": true, "color": "#000000", "opacity": 1}, "encoding": {"x": {"field": "x", "type": "quantitative", "scale": {"domain": [-0.83, 18.08], "nice": false, "zero": false}, "axis": null}, "y": {"field": "v", "type": "quantitative", "scale": {"domain": [-269.8, 712.3], "nice": false, "zero": false}, "axis": null}}},
{"data": {"name": "heads"}, "transform": [{"filter": "datum.h=='cc'"}], "mark": {"type": "point", "shape": "M1,0L-1,-0.73L-1,0.73Z", "size": 1369, "angle": 0, "filled": true, "color": "#ffffff", "opacity": 1}, "encoding": {"x": {"field": "x", "type": "quantitative", "scale": {"domain": [-0.83, 18.08], "nice": false, "zero": false}, "axis": null}, "y": {"field": "v", "type": "quantitative", "scale": {"domain": [-269.8, 712.3], "nice": false, "zero": false}, "axis": null}}},
{"data": {"name": "texts"}, "transform": [{"filter": "datum.p=='C' && datum.r=='c'"}], "mark": {"type": "text", "font": "Liberation Sans", "fontWeight": "bold", "fontSize": 32, "align": "center", "baseline": "middle", "color": "#000000", "dx": -3, "dy": -2}, "encoding": {"x": {"field": "x", "type": "quantitative", "scale": {"domain": [-0.83, 18.08], "nice": false, "zero": false}, "axis": null}, "y": {"field": "v", "type": "quantitative", "scale": {"domain": [-269.8, 712.3], "nice": false, "zero": false}, "axis": null}, "text": {"field": "t"}}},
{"data": {"name": "texts"}, "transform": [{"filter": "datum.p=='C' && datum.r=='c'"}], "mark": {"type": "text", "font": "Liberation Sans", "fontWeight": "bold", "fontSize": 32, "align": "center", "baseline": "middle", "color": "#ffffff"}, "encoding": {"x": {"field": "x", "type": "quantitative", "scale": {"domain": [-0.83, 18.08], "nice": false, "zero": false}, "axis": null}, "y": {"field": "v", "type": "quantitative", "scale": {"domain": [-269.8, 712.3], "nice": false, "zero": false}, "axis": null}, "text": {"field": "t"}}},
{"data": {"name": "texts"}, "transform": [{"filter": "datum.p=='C' && datum.r=='l'"}], "mark": {"type": "text", "font": "Liberation Sans", "fontWeight": "bold", "fontSize": 32, "align": "left", "baseline": "middle", "color": "#000000", "dx": -3, "dy": -2}, "encoding": {"x": {"field": "x", "type": "quantitative", "scale": {"domain": [-0.83, 18.08], "nice": false, "zero": false}, "axis": null}, "y": {"field": "v", "type": "quantitative", "scale": {"domain": [-269.8, 712.3], "nice": false, "zero": false}, "axis": null}, "text": {"field": "t"}}},
{"data": {"name": "texts"}, "transform": [{"filter": "datum.p=='C' && datum.r=='l'"}], "mark": {"type": "text", "font": "Liberation Sans", "fontWeight": "bold", "fontSize": 32, "align": "left", "baseline": "middle", "color": "#ffffff"}, "encoding": {"x": {"field": "x", "type": "quantitative", "scale": {"domain": [-0.83, 18.08], "nice": false, "zero": false}, "axis": null}, "y": {"field": "v", "type": "quantitative", "scale": {"domain": [-269.8, 712.3], "nice": false, "zero": false}, "axis": null}, "text": {"field": "t"}}}
]}
]
},
{
"width": 13, "height": 739, "data": {"values": [{}]},
"mark": {"type": "rect", "fill": {"gradient": "linear", "x1": 0, "y1": 0, "x2": 1, "y2": 0, "stops": [{"offset": 0, "color": "#3a3a3a"}, {"offset": 0.12, "color": "#7a7a7a"}, {"offset": 0.5, "color": "#a4a4a4"}, {"offset": 1, "color": "#8e8e8e"}]}},
"encoding": {"x": {"datum": 0, "type": "quantitative", "scale": {"domain": [0, 1], "nice": false, "zero": false}, "axis": null}, "x2": {"datum": 1}, "y": {"datum": 0, "type": "quantitative", "scale": {"domain": [0, 1], "nice": false, "zero": false}, "axis": null}, "y2": {"datum": 1}}
},
{
"width": 280, "height": 739,
"view": {"fill": "#5d7f5f", "stroke": null},
"resolve": {"scale": {"y": "independent"}},
"layer": [
{"layer": [
{"data": {"name": "div"}, "transform": [{"filter": "datum.p=='D'"}], "mark": {"type": "rule", "color": "#8e8e8e", "strokeWidth": 3}, "encoding": {"y": {"field": "y", "type": "quantitative", "scale": {"domain": [-349, 390], "nice": false, "zero": false}, "axis": null}}},
{"data": {"name": "candles"}, "transform": [{"filter": "datum.i <= 18"}], "mark": {"type": "rule", "color": "#000000", "strokeWidth": 1.3, "clip": true}, "encoding": {"x": {"field": "i", "type": "quantitative", "scale": {"domain": [-0.86, 17.57], "nice": false, "zero": false}, "axis": null}, "y": {"field": "l", "type": "quantitative", "scale": {"domain": [-349, 390], "nice": false, "zero": false}, "axis": null}, "y2": {"field": "h"}}},
{"data": {"name": "candles"}, "transform": [{"filter": "datum.i <= 18"}], "mark": {"type": "bar", "width": 10, "stroke": "#000000", "strokeWidth": 1.2, "clip": true}, "encoding": {"x": {"field": "i", "type": "quantitative", "scale": {"domain": [-0.86, 17.57], "nice": false, "zero": false}, "axis": null}, "y": {"field": "o", "type": "quantitative", "scale": {"domain": [-349, 390], "nice": false, "zero": false}, "axis": null}, "y2": {"field": "c"}, "fill": {"condition": [{"test": "datum.c > datum.o", "value": "#1ec41e"}, {"test": "datum.c < datum.o", "value": "#e3161b"}], "value": "#000000"}}}
]},
{"layer": [
{"data": {"name": "edge"}, "mark": {"type": "rule", "color": "#3a4fae", "strokeWidth": 3, "clip": true}, "encoding": {"x": {"field": "x", "type": "quantitative", "scale": {"domain": [-0.86, 17.57], "nice": false, "zero": false}, "axis": null}}},
{"data": {"name": "hist"}, "transform": [{"filter": "datum.p=='D'"}], "mark": {"type": "area", "interpolate": "linear", "clip": true}, "encoding": {"x": {"field": "x", "type": "quantitative", "scale": {"domain": [-0.86, 17.57], "nice": false, "zero": false}, "axis": null}, "y": {"field": "v", "type": "quantitative", "scale": {"domain": [-265.3, 710.2], "nice": false, "zero": false}, "axis": null}, "y2": {"datum": 0}, "detail": {"field": "s"}, "fill": {"condition": [{"test": "datum.k=='red'", "value": "#ff0a0a"}, {"test": "datum.k=='gray'", "value": "#5b5b5b"}, {"test": "datum.k=='yellow'", "value": "#ffff00"}], "value": "#0b62d0"}}},
{"data": {"name": "seps"}, "transform": [{"filter": "datum.p=='D'"}], "mark": {"type": "rule", "color": "#aabdd0", "strokeWidth": 1, "opacity": 0.55, "clip": true}, "encoding": {"x": {"field": "x", "type": "quantitative", "scale": {"domain": [-0.86, 17.57], "nice": false, "zero": false}, "axis": null}, "y": {"field": "v", "type": "quantitative", "scale": {"domain": [-265.3, 710.2], "nice": false, "zero": false}, "axis": null}, "y2": {"datum": 0}}},
{"data": {"name": "levels"}, "mark": {"type": "rule", "strokeWidth": 4.5, "strokeDash": [11, 4.2], "strokeDashOffset": 8.13}, "encoding": {"y": {"field": "lv", "type": "quantitative", "scale": {"domain": [-265.3, 710.2], "nice": false, "zero": false}, "axis": null}, "color": {"condition": {"test": "abs(datum.lv)==100", "value": "#35e2e6"}, "value": "#22e21e"}}},
{"data": {"name": "dots"}, "transform": [{"filter": "datum.p=='*' || datum.p=='D'"}], "mark": {"type": "tick", "orient": "horizontal", "size": 11, "thickness": 4.5, "xOffset": -0.5, "opacity": 1, "clip": true}, "encoding": {"x": {"field": "i", "type": "quantitative", "scale": {"domain": [-0.86, 17.57], "nice": false, "zero": false}, "axis": null}, "y": {"field": "lv", "type": "quantitative", "scale": {"domain": [-265.3, 710.2], "nice": false, "zero": false}, "axis": null}, "color": {"condition": [{"test": "datum.k=='y'", "value": "#f4f03c"}, {"test": "datum.k=='r'", "value": "#e5161a"}, {"test": "datum.k=='dr'", "value": "#7c0e0e"}, {"test": "datum.k=='o'", "value": "#e9a82c"}], "value": "#22e21e"}}},
{"data": {"name": "cci"}, "transform": [{"filter": "datum.p=='D'"}], "mark": {"type": "line", "color": "#8a1b14", "strokeWidth": 1.6, "clip": true}, "encoding": {"x": {"field": "i", "type": "quantitative", "scale": {"domain": [-0.86, 17.57], "nice": false, "zero": false}, "axis": null}, "y": {"field": "t", "type": "quantitative", "scale": {"domain": [-265.3, 710.2], "nice": false, "zero": false}, "axis": null}}},
{"data": {"name": "cci"}, "transform": [{"filter": "datum.p=='D'"}], "mark": {"type": "line", "color": "#000000", "strokeWidth": 9, "strokeJoin": "round", "strokeCap": "round", "clip": true}, "encoding": {"x": {"field": "i", "type": "quantitative", "scale": {"domain": [-0.86, 17.57], "nice": false, "zero": false}, "axis": null}, "y": {"field": "v", "type": "quantitative", "scale": {"domain": [-265.3, 710.2], "nice": false, "zero": false}, "axis": null}}},
{"data": {"name": "texts"}, "transform": [{"filter": "datum.p=='D' && datum.r=='c'"}], "mark": {"type": "text", "font": "Liberation Sans", "fontWeight": "bold", "fontSize": 32, "align": "center", "baseline": "middle", "color": "#000000", "dx": -3, "dy": -2}, "encoding": {"x": {"field": "x", "type": "quantitative", "scale": {"domain": [-0.86, 17.57], "nice": false, "zero": false}, "axis": null}, "y": {"field": "v", "type": "quantitative", "scale": {"domain": [-265.3, 710.2], "nice": false, "zero": false}, "axis": null}, "text": {"field": "t"}}},
{"data": {"name": "texts"}, "transform": [{"filter": "datum.p=='D' && datum.r=='c'"}], "mark": {"type": "text", "font": "Liberation Sans", "fontWeight": "bold", "fontSize": 32, "align": "center", "baseline": "middle", "color": "#ffffff"}, "encoding": {"x": {"field": "x", "type": "quantitative", "scale": {"domain": [-0.86, 17.57], "nice": false, "zero": false}, "axis": null}, "y": {"field": "v", "type": "quantitative", "scale": {"domain": [-265.3, 710.2], "nice": false, "zero": false}, "axis": null}, "text": {"field": "t"}}}
]}
]
}
]
}
